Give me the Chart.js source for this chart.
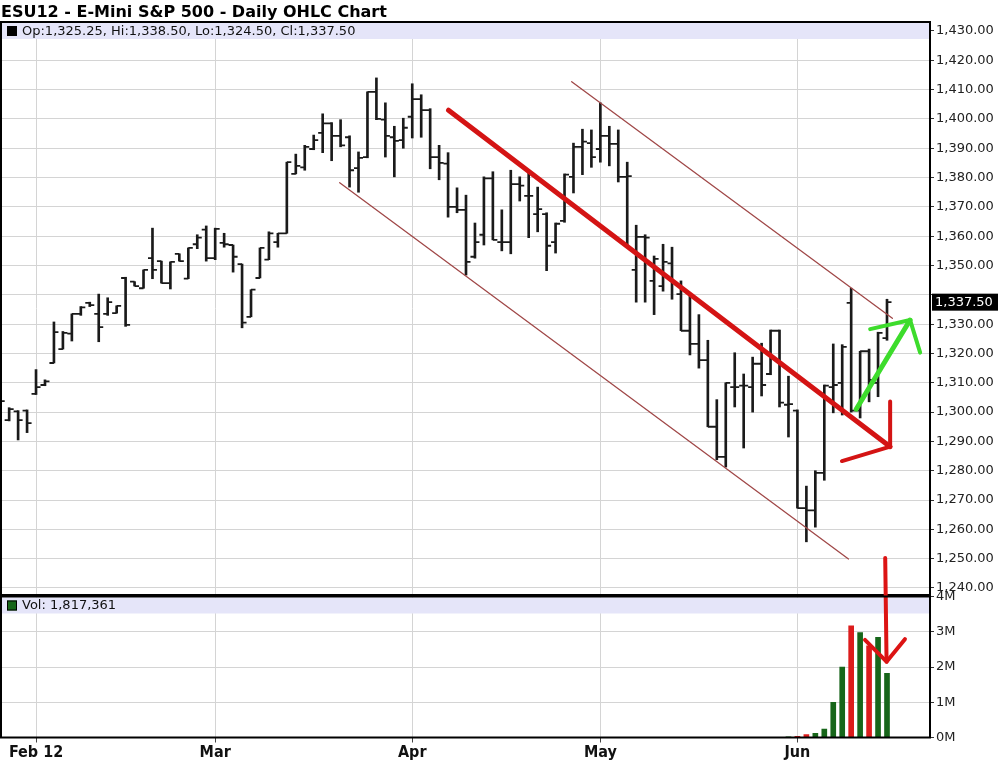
<!DOCTYPE html>
<html>
<head>
<meta charset="utf-8">
<title>ESU12 Daily OHLC</title>
<script src="https://cdn.jsdelivr.net/npm/chart.js@4.4.1/dist/chart.umd.min.js"></script>
<style>
  html, body { margin: 0; padding: 0; background: #fff; }
  #wrap { position: relative; width: 1000px; height: 765px; overflow: hidden; }
  #wrap canvas { position: absolute; left: 0; top: 0; }
  #priceChart { z-index: 1; }
  #volChart { z-index: 2; }
  #title { position: absolute; left: 1px; top: 2px; z-index: 3; white-space: nowrap;
           font: bold 16px "DejaVu Sans", sans-serif; color: #000; }
</style>
</head>
<body>
<div id="wrap">
  <div id="title">ESU12 - E-Mini S&amp;P 500 - Daily OHLC Chart</div>
  <canvas id="priceChart" width="1000" height="765"></canvas>
  <canvas id="volChart" width="1000" height="765"></canvas>
</div>
<script>
// x axis: bar index (one bar per trading day), month labels at these bars
const tickIndex = [4, 24, 46, 67, 89];
const tickLabels = ['Feb 12', 'Mar', 'Apr', 'May', 'Jun'];
const priceTicks = [1240, 1250, 1260, 1270, 1280, 1290, 1300, 1310, 1320, 1330,
                    1340, 1350, 1360, 1370, 1380, 1390, 1400, 1410, 1420, 1430];
const volTicks = [0, 1000000, 2000000, 3000000, 4000000];
const volTickLabels = ['0M', '1M', '2M', '3M', '4M'];

// daily OHLC, late Jan -> mid Jun 2012
const open = [
  1300.75, 1297.25, 1300.25, 1300.5, 1306.25, 1309.25, 1316.75, 1321.5, 1326.75, 1333.5,
  1337.25, 1333.5, 1333.5, 1333.75, 1345.75, 1344.5, 1342.25, 1352.5, 1351.5, 1344.0,
  1354.0, 1345.5, 1357.25, 1362.25, 1352.5, 1357.75, 1357.0, 1350.5, 1332.5, 1345.75,
  1352.0, 1358.0, 1361.0, 1381.25, 1383.5, 1389.75, 1395.25, 1398.5, 1394.25, 1393.75,
  1383.25, 1387.0, 1409.25, 1399.75, 1393.75, 1392.75, 1400.75, 1406.75, 1403.0, 1387.0,
  1384.75, 1370.0, 1369.0, 1353.0, 1360.5, 1379.75, 1358.0, 1358.0, 1377.75, 1373.75,
  1367.5, 1367.5, 1358.0, 1365.25, 1380.25, 1390.5, 1391.75, 1389.75, 1394.25, 1391.5,
  1380.25, 1348.5, 1359.75, 1344.75, 1343.0, 1350.75, 1340.25, 1327.75, 1323.25, 1317.75,
  1295.0, 1284.75, 1308.5, 1309.0, 1308.5, 1316.5, 1313.0, 1327.75, 1302.5, 1300.5,
  1267.25, 1266.5, 1279.25, 1308.5, 1310.0, 1337.25, 1300.5, 1320.75, 1310.0, 1325.25
];
const high = [
  1304.75, 1301.5, 1300.5, 1300.75, 1314.5, 1311.0, 1330.75, 1327.5, 1333.5, 1336.0,
  1337.5, 1340.25, 1339.0, 1336.25, 1346.0, 1344.5, 1348.5, 1362.75, 1351.5, 1351.25,
  1354.0, 1356.0, 1360.5, 1363.5, 1362.75, 1361.0, 1357.0, 1350.5, 1341.75, 1356.0,
  1361.5, 1361.0, 1385.25, 1388.0, 1391.0, 1394.5, 1401.75, 1398.75, 1399.75, 1394.25,
  1388.75, 1409.25, 1414.0, 1405.5, 1397.5, 1400.25, 1412.0, 1408.25, 1403.5, 1391.0,
  1388.5, 1376.5, 1374.0, 1364.5, 1380.25, 1382.0, 1369.0, 1382.5, 1380.25, 1381.5,
  1376.75, 1368.0, 1364.5, 1381.25, 1391.75, 1396.5, 1396.25, 1405.5, 1397.5, 1396.25,
  1385.25, 1363.75, 1360.5, 1353.25, 1357.25, 1356.25, 1344.75, 1340.0, 1333.25, 1324.5,
  1304.25, 1310.0, 1320.25, 1313.0, 1318.75, 1323.5, 1328.0, 1328.0, 1312.25, 1300.75,
  1274.75, 1280.0, 1309.25, 1323.25, 1323.0, 1342.25, 1320.75, 1321.5, 1327.25, 1338.5
];
const low = [
  1298.0, 1297.0, 1290.5, 1293.0, 1306.0, 1309.0, 1316.75, 1321.5, 1324.25, 1333.0,
  1336.0, 1324.0, 1333.0, 1333.75, 1329.25, 1343.0, 1342.25, 1345.5, 1344.0, 1342.0,
  1351.5, 1345.5, 1355.75, 1351.5, 1352.0, 1356.25, 1347.75, 1328.75, 1332.5, 1345.75,
  1352.0, 1356.25, 1361.0, 1381.25, 1382.5, 1389.5, 1388.5, 1385.75, 1390.5, 1376.75,
  1375.0, 1386.75, 1399.75, 1387.0, 1380.25, 1390.0, 1393.5, 1393.75, 1383.0, 1379.25,
  1366.5, 1368.0, 1346.75, 1352.5, 1357.0, 1358.75, 1355.0, 1354.0, 1372.0, 1359.5,
  1361.5, 1348.25, 1354.25, 1364.75, 1374.75, 1381.0, 1383.5, 1385.25, 1384.0, 1378.5,
  1356.25, 1337.5, 1337.5, 1333.25, 1341.25, 1338.5, 1327.75, 1319.5, 1315.0, 1295.0,
  1283.75, 1281.25, 1301.75, 1287.75, 1300.0, 1305.5, 1312.75, 1301.75, 1291.5, 1267.25,
  1255.75, 1260.75, 1276.75, 1299.75, 1299.0, 1300.0, 1298.0, 1303.5, 1305.25, 1324.5
];
const close = [
  1303.75, 1301.0, 1297.25, 1296.25, 1308.5, 1310.5, 1327.25, 1327.0, 1333.5, 1335.75,
  1336.5, 1329.0, 1337.5, 1336.25, 1329.75, 1343.0, 1348.5, 1348.5, 1344.0, 1351.25,
  1351.5, 1356.0, 1359.5, 1352.5, 1362.5, 1357.25, 1353.0, 1330.5, 1341.75, 1356.0,
  1361.0, 1361.0, 1385.25, 1384.0, 1390.5, 1392.75, 1398.5, 1394.25, 1391.0, 1382.5,
  1386.75, 1409.25, 1400.0, 1394.25, 1392.5, 1397.0, 1406.75, 1403.0, 1387.0, 1385.0,
  1370.0, 1369.0, 1351.25, 1358.0, 1379.75, 1358.75, 1358.0, 1377.75, 1377.25, 1373.75,
  1369.25, 1356.75, 1364.25, 1381.0, 1390.5, 1392.25, 1387.0, 1394.25, 1391.5, 1380.25,
  1380.5, 1359.75, 1359.5, 1352.25, 1351.25, 1344.0, 1327.75, 1323.25, 1317.75, 1295.0,
  1284.75, 1310.0, 1308.5, 1309.0, 1316.5, 1309.25, 1327.75, 1303.25, 1302.75, 1267.25,
  1266.5, 1279.25, 1309.0, 1309.25, 1322.25, 1300.5, 1320.75, 1311.0, 1327.0, 1337.5
];

// September contract volume, only the last bars are visible
const volume = [20000, 30000, 80000, 120000, 240000, 1000000,
                2000000, 3170000, 2980000, 2600000, 2840000, 1817361];
const volStart = close.length - volume.length;

// hand-drawn annotations, in (bar index, price)
const channelLow = [{x: 37.9, y: 1378.25}, {x: 94.7, y: 1249.9}];
const channelHigh = [{x: 63.8, y: 1412.7}, {x: 99.6, y: 1332.0}];
const trendLine = [{x: 50.05, y: 1403.0}, {x: 99.35, y: 1288.2}];
const trendHead = [{x: 99.35, y: 1303.6}, {x: 99.35, y: 1288.2}, {x: 93.97, y: 1283.3}];
const greenShaft = [{x: 95.56, y: 1301.0}, {x: 101.58, y: 1331.4}];
const greenHead = [{x: 97.12, y: 1328.3}, {x: 101.58, y: 1331.4}, {x: 102.7, y: 1320.3}];
// the arrow drawn over the volume pane, in (bar index, contracts)
const volArrowShaft = [{x: 98.8, y: 5090000}, {x: 98.95, y: 2150000}];
const volArrowHead = [{x: 96.54, y: 2770000}, {x: 98.95, y: 2150000}, {x: 101.0, y: 2790000}];

const X_MIN = 0.09, X_MAX = 103.8;
const GRID = '#d4d4d4';
const NARROW = '"Liberation Sans Narrow", "DejaVu Sans Condensed", sans-serif';

Chart.defaults.font.family = '"DejaVu Sans", sans-serif';
Chart.defaults.animation = false;
Chart.defaults.plugins.legend.display = false;
Chart.defaults.plugins.tooltip.enabled = false;

const fmt = v => v.toLocaleString('en-US', {minimumFractionDigits: 2, maximumFractionDigits: 2});
const n = close.length - 1;
const last = close[n];

function line(points, color, width, extra) {
    return Object.assign({
        type: 'line', data: points, borderColor: color, borderWidth: width,
        pointRadius: 0, fill: false, tension: 0, order: 1,
        borderCapStyle: 'round', borderJoinStyle: 'round'
    }, extra);
}

// lavender header strip + frame of a pane
const panel = {
    id: 'panel',
    beforeDatasetsDraw(chart, args, opts) {
        const {ctx, chartArea: a} = chart;
        ctx.save();
        ctx.fillStyle = '#e5e5f9';
        ctx.fillRect(a.left, a.top + 1, a.width, 16);
        ctx.fillStyle = opts.swatch;
        ctx.fillRect(a.left + 6, a.top + 4, 10, 10);
        ctx.strokeStyle = '#000';
        ctx.lineWidth = 1;
        ctx.strokeRect(a.left + 6.5, a.top + 4.5, 9, 9);
        ctx.fillStyle = '#111';
        ctx.font = '13px "DejaVu Sans", sans-serif';
        ctx.textBaseline = 'middle';
        ctx.fillText(opts.text, a.left + 21, a.top + 9.5);
        ctx.restore();
    },
    afterDraw(chart) {
        const {ctx, chartArea: a} = chart;
        ctx.save();
        ctx.strokeStyle = '#000';
        ctx.lineWidth = 2;
        ctx.strokeRect(a.left, a.top, a.width, a.height);
        ctx.restore();
    }
};

// open tick to the left, close tick to the right of each high-low bar
const ohlcTicks = {
    id: 'ohlcTicks',
    afterDatasetDraw(chart, args) {
        if (args.index !== 0) return;
        const {ctx, chartArea: a, scales: {x, y}} = chart;
        ctx.save();
        ctx.beginPath();
        ctx.rect(a.left, a.top, a.width, a.height);
        ctx.clip();
        ctx.strokeStyle = '#1a1a1a';
        ctx.lineWidth = 1.8;
        ctx.beginPath();
        open.forEach((o, i) => {
            const px = x.getPixelForValue(i);
            const po = y.getPixelForValue(o);
            const pc = y.getPixelForValue(close[i]);
            ctx.moveTo(px - 4.5, po);
            ctx.lineTo(px, po);
            ctx.moveTo(px, pc);
            ctx.lineTo(px + 4.5, pc);
        });
        ctx.stroke();
        ctx.restore();
    }
};

// black box with the last price on the price axis
const lastBox = {
    id: 'lastBox',
    afterDraw(chart) {
        const {ctx, scales: {y}} = chart;
        const py = y.getPixelForValue(last);
        ctx.save();
        ctx.fillStyle = '#000';
        ctx.fillRect(y.left + 2, py - 8.5, 66, 17);
        ctx.fillStyle = '#fff';
        ctx.font = '13px "DejaVu Sans", sans-serif';
        ctx.textBaseline = 'middle';
        ctx.fillText(fmt(last), y.left + 5, py + 0.5);
        ctx.restore();
    }
};

function monthAxis(withLabels) {
    return {
        type: 'linear', min: X_MIN, max: X_MAX, offset: false,
        afterBuildTicks: s => { s.ticks = tickIndex.map(v => ({value: v})); },
        afterFit: s => { s.height = withLabels ? 27.5 : 0; },
        grid: {color: GRID, offset: false, drawTicks: withLabels, tickLength: 5, tickColor: '#444'},
        border: {display: false},
        ticks: {
            display: withLabels, autoSkip: false, maxRotation: 0, padding: 1, color: '#111',
            font: {family: NARROW, size: 16, weight: 'bold'},
            callback: v => tickLabels[tickIndex.indexOf(v)] ?? ''
        }
    };
}

new Chart(document.getElementById('priceChart'), {
    type: 'bar',
    data: {
        datasets: [
            {
                data: high.map((h, i) => ({x: i, y: [low[i], h]})),
                backgroundColor: '#1a1a1a', barThickness: 2, order: 10
            },
            line(channelLow, '#a04848', 1.3),
            line(channelHigh, '#a04848', 1.3),
            line(trendLine, '#d41414', 5),
            line(trendHead, '#d41414', 4),
            line(greenShaft, '#3ddc2c', 5),
            line(greenHead, '#3ddc2c', 4)
        ]
    },
    options: {
        responsive: false,
        layout: {padding: {top: 22, left: 1, right: 0, bottom: 170}},
        scales: {
            x: monthAxis(false),
            y: {
                position: 'right', min: 1237.61, max: 1433.07,
                afterBuildTicks: s => { s.ticks = priceTicks.map(v => ({value: v})); },
                afterFit: s => { s.width = 70; },
                grid: {color: GRID, tickColor: '#333', tickLength: 4},
                border: {color: '#000', width: 1.5},
                ticks: {
                    autoSkip: false, padding: 2, color: '#222', font: {size: 13},
                    callback: v => Math.abs(v - last) < 6 ? '' : fmt(v)
                }
            }
        },
        plugins: {
            panel: {
                swatch: '#000',
                text: `Op:${fmt(open[n])}, Hi:${fmt(high[n])}, Lo:${fmt(low[n])}, Cl:${fmt(close[n])}`
            }
        }
    },
    plugins: [panel, ohlcTicks, lastBox]
});

new Chart(document.getElementById('volChart'), {
    type: 'bar',
    data: {
        datasets: [
            {
                data: volume.map((v, k) => ({x: volStart + k, y: v})),
                backgroundColor: volume.map((v, k) =>
                    close[volStart + k] < open[volStart + k] ? '#dc1c1c' : '#17661a'),
                barThickness: 5, order: 10
            },
            line(volArrowShaft, '#dc1414', 4, {clip: false}),
            line(volArrowHead, '#dc1414', 4, {clip: false})
        ]
    },
    options: {
        responsive: false,
        layout: {padding: {top: 596.5, left: 1, right: 0, bottom: 0}},
        scales: {
            x: monthAxis(true),
            y: {
                position: 'right', min: 0, max: 4000000,
                afterBuildTicks: s => { s.ticks = volTicks.map(v => ({value: v})); },
                afterFit: s => { s.width = 70; },
                grid: {color: GRID, tickColor: '#333', tickLength: 4},
                border: {color: '#000', width: 1.5},
                ticks: {
                    autoSkip: false, padding: 2, color: '#222', font: {size: 13},
                    callback: v => volTickLabels[volTicks.indexOf(v)]
                }
            }
        },
        plugins: {
            panel: {swatch: '#17661a', text: 'Vol: ' + volume[volume.length - 1].toLocaleString('en-US')}
        }
    },
    plugins: [panel]
});
</script>
</body>
</html>
